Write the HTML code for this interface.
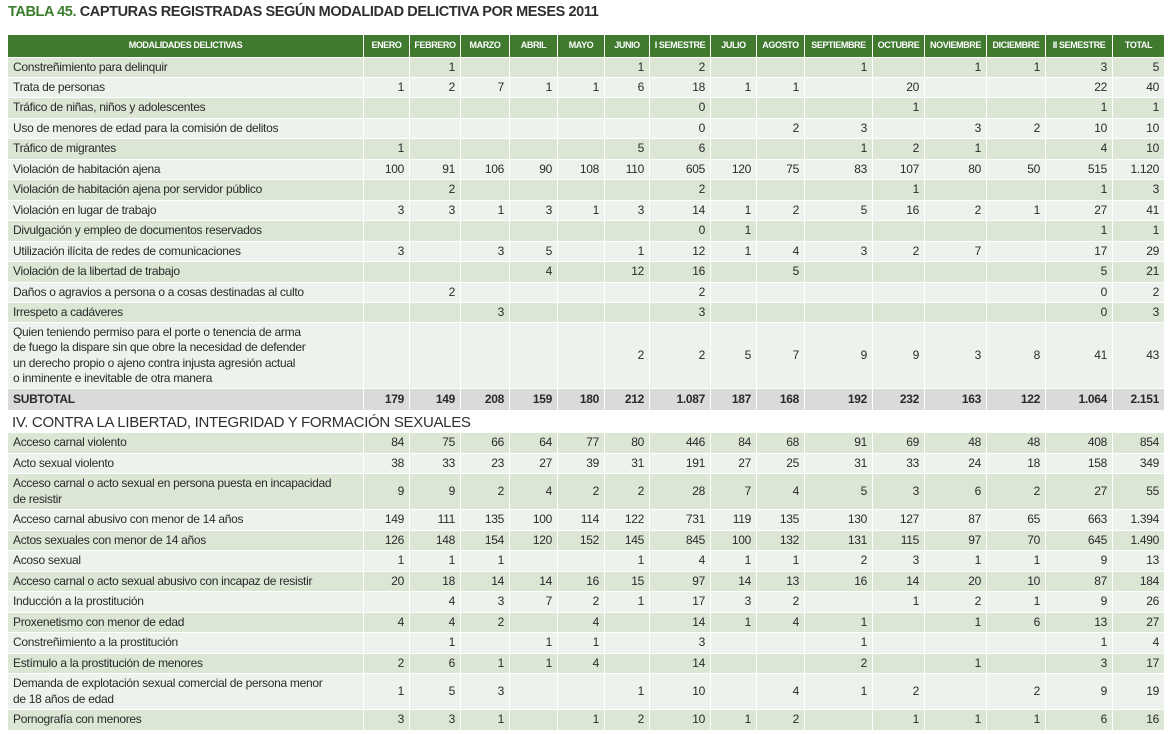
<!DOCTYPE html>
<html><head><meta charset="utf-8">
<style>
body{margin:0;width:1176px;height:734px;background:#fff;position:relative;overflow:hidden;font-family:"Liberation Sans",sans-serif;color:#2a2a2a}
#title{position:absolute;left:8px;top:4px;font-size:14.5px;font-weight:bold;color:#2f2f2f;letter-spacing:-0.4px}
#title span{color:#3a7d2c}
.c{position:absolute;box-sizing:border-box;font-size:12px;line-height:15.5px;display:flex;align-items:center;border-right:1.5px solid #fff;border-bottom:1.5px solid #fff;padding:0 5px;white-space:nowrap;letter-spacing:-0.3px}
.n{justify-content:flex-end}
.h{background:#3f7a2f;color:#fff;font-weight:bold;font-size:9px;justify-content:center;padding:0 1px;letter-spacing:-0.4px}
.g{background:#dbe6d5}.l{background:#eef2ec}.s{background:#d9dbd8;font-weight:bold}
.sec{position:absolute;left:8px;top:411px;height:22px;font-size:15px;color:#2f2f2f;display:flex;align-items:center;padding-left:4px;letter-spacing:-0.3px}
</style></head><body>
<div id="title"><span>TABLA 45.</span> CAPTURAS REGISTRADAS SEGÚN MODALIDAD DELICTIVA POR MESES 2011</div>
<div id="tbl"></div>
<div class="sec">IV. CONTRA LA LIBERTAD, INTEGRIDAD Y FORMACIÓN SEXUALES</div>
<script>
const headers=["MODALIDADES DELICTIVAS","ENERO","FEBRERO","MARZO","ABRIL","MAYO","JUNIO","I SEMESTRE","JULIO","AGOSTO","SEPTIEMBRE","OCTUBRE","NOVIEMBRE","DICIEMBRE","II SEMESTRE","TOTAL"];
const labels1=["Constreñimiento para delinquir","Trata de personas","Tráfico de niñas, niños y adolescentes","Uso de menores de edad para la comisión de delitos","Tráfico de migrantes","Violación de habitación ajena","Violación de habitación ajena por servidor público","Violación en lugar de trabajo","Divulgación y empleo de documentos reservados","Utilización ilícita de redes de comunicaciones","Violación de la libertad de trabajo","Daños o agravios a persona o a cosas destinadas al culto","Irrespeto a cadáveres","Quien teniendo permiso para el porte o tenencia de arma<br>de fuego la dispare sin que obre la necesidad de defender<br>un derecho propio o ajeno contra injusta agresión actual<br>o inminente e inevitable de otra manera"];
const values1=[
",1,,,,1,2,,,1,,1,1,3,5","1,2,7,1,1,6,18,1,1,,20,,,22,40",",,,,,,0,,,,1,,,1,1",",,,,,,0,,2,3,,3,2,10,10","1,,,,,5,6,,,1,2,1,,4,10","100,91,106,90,108,110,605,120,75,83,107,80,50,515,1.120",",2,,,,,2,,,,1,,,1,3","3,3,1,3,1,3,14,1,2,5,16,2,1,27,41",",,,,,,0,1,,,,,,1,1","3,,3,5,,1,12,1,4,3,2,7,,17,29",",,,4,,12,16,,5,,,,,5,21",",2,,,,,2,,,,,,,0,2",",,3,,,,3,,,,,,,0,3",",,,,,2,2,5,7,9,9,3,8,41,43"];
const subtotal="179,149,208,159,180,212,1.087,187,168,192,232,163,122,1.064,2.151";
const labels2=["Acceso carnal violento","Acto sexual violento","Acceso carnal o acto sexual en persona puesta en incapacidad<br>de resistir","Acceso carnal abusivo con menor de 14 años","Actos sexuales con menor de 14 años","Acoso sexual","Acceso carnal o acto sexual abusivo con incapaz de resistir","Inducción a la prostitución","Proxenetismo con menor de edad","Constreñimiento a la prostitución","Estímulo a la prostitución de menores","Demanda de explotación sexual comercial de persona menor<br>de 18 años de edad","Pornografía con menores"];
const values2=["84,75,66,64,77,80,446,84,68,91,69,48,48,408,854","38,33,23,27,39,31,191,27,25,31,33,24,18,158,349","9,9,2,4,2,2,28,7,4,5,3,6,2,27,55","149,111,135,100,114,122,731,119,135,130,127,87,65,663,1.394","126,148,154,120,152,145,845,100,132,131,115,97,70,645,1.490","1,1,1,,,1,4,1,1,2,3,1,1,9,13","20,18,14,14,16,15,97,14,13,16,14,20,10,87,184",",4,3,7,2,1,17,3,2,,1,2,1,9,26","4,4,2,,4,,14,1,4,1,,1,6,13,27",",1,,1,1,,3,,,1,,,,1,4","2,6,1,1,4,,14,,,2,,1,,3,17","1,5,3,,,1,10,,4,1,2,,2,9,19","3,3,1,,1,2,10,1,2,,1,1,1,6,16"];
const colX=[8,364,410,461,510,558,605,650,711,757,805,873,925,987,1046,1113,1165];
const rows1Y=[57.5,78,98,119,139,160,180,201,221,242,262,283,303,323,389];
const rows2Y=[433,454,474,510,531,551,572,592,613,633,654,674,710,731];
const tbl=document.getElementById('tbl');
function cell(x0,x1,y0,y1,cls,html){
  const d=document.createElement('div');
  d.className='c '+cls;
  d.style.left=x0+'px';d.style.width=(x1-x0)+'px';d.style.top=y0+'px';d.style.height=(y1-y0)+'px';
  d.innerHTML=html;tbl.appendChild(d);return d;}
headers.forEach((h,i)=>{
  const d=cell(colX[i],colX[i+1],35,57.5,'h',h);
  
  
});
function addRow(label,vals,y0,y1,bg){
  const d=cell(colX[0],colX[1],y0,y1,bg,label);
  
  
  vals.split(',').forEach((v,i)=>{
    const e=cell(colX[i+1],colX[i+2],y0,y1,bg+' n',v);
    
    
  });
}
labels1.forEach((l,i)=>addRow(l,values1[i],rows1Y[i],rows1Y[i+1],i%2?'l':'g'));
addRow('SUBTOTAL',subtotal,389,411,'s');
labels2.forEach((l,i)=>addRow(l,values2[i],rows2Y[i],rows2Y[i+1],i%2?'l':'g'));
</script>
</body></html>
